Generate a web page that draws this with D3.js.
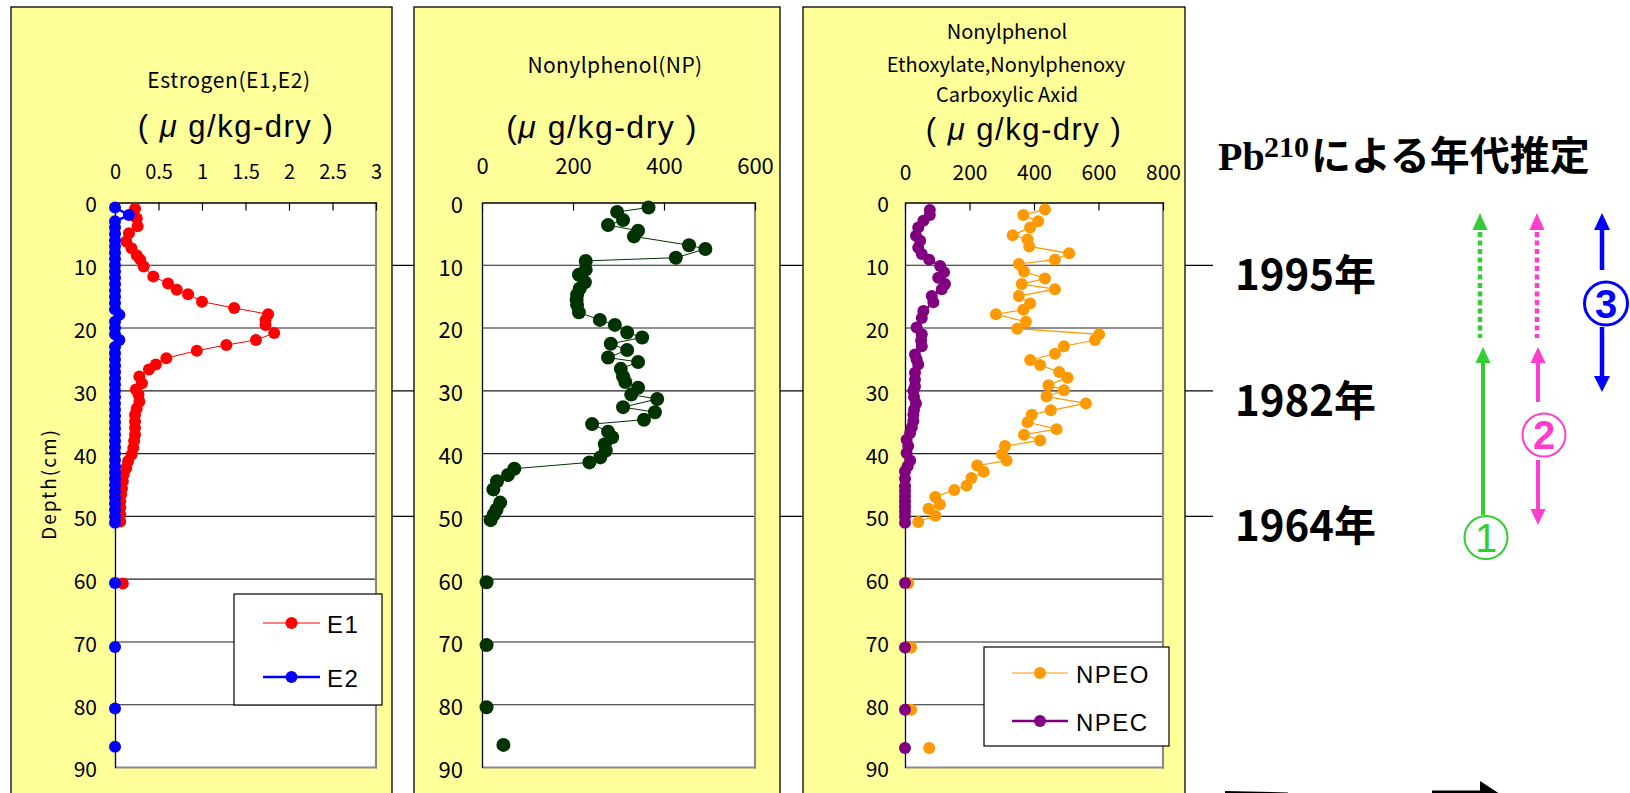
<!DOCTYPE html>
<html><head><meta charset="utf-8">
<script src="https://cdn.jsdelivr.net/npm/d3@7"></script>
<style>body{margin:0;background:#fff;} svg{display:block;}</style>
</head><body>
<svg id="c" width="1630" height="793"></svg>
<script>
// ---------------- data ----------------
const depthTicks = [0,10,20,30,40,50,60,70,80,90];
const estrogenTicks = [0,0.5,1,1.5,2,2.5,3];
const npTicks = [0,200,400,600];
const npeTicks = [0,200,400,600,800];
const yearLabels = ["1995年","1982年","1964年"];
const yearDepths = [10,30,50];

const e1Depth = [1.0,2.5,3.8,4.9,6.2,7.3,8.4,9.1,10.2,11.8,12.9,13.9,14.6,15.8,16.8,17.8,18.7,19.5,20.8,21.9,22.7,23.6,24.8,25.8,26.6,27.7,28.8,29.8,30.6,31.7,32.8,33.8,34.9,35.9,37.0,38.0,39.1,40.2,41.2,42.3,43.3,44.4,45.5,46.5,47.6,48.6,49.7,50.8,60.7];
const e1Value = [0.23,0.25,0.26,0.16,0.13,0.19,0.25,0.29,0.33,0.44,0.61,0.71,0.84,1.00,1.37,1.76,1.73,1.73,1.83,1.62,1.28,0.94,0.59,0.47,0.39,0.28,0.31,0.24,0.27,0.28,0.25,0.23,0.23,0.23,0.23,0.22,0.21,0.19,0.15,0.13,0.10,0.09,0.08,0.07,0.06,0.06,0.06,0.06,0.09];

const e2Depth = [0.8,2.0,3.0,4.0,5.0,6.0,7.0,8.0,9.0,10.0,11.0,12.0,13.0,14.0,15.0,16.0,17.0,17.9,19.0,20.0,21.0,21.9,23.0,24.0,25.0,26.0,27.0,28.0,29.0,30.0,31.0,32.0,33.0,34.0,35.0,36.0,37.0,38.0,39.0,40.0,41.0,42.0,43.0,44.0,45.0,46.0,47.0,48.0,49.0,50.0,51.0,60.6,70.8,80.6,86.7];
const e2Value = [0,0.16,0,0,0,0,0,0,0,0,0,0,0,0,0,0,0,0.05,0,0,0,0.05,0,0,0,0,0,0,0,0,0,0,0,0,0,0,0,0,0,0,0,0,0,0,0,0,0,0,0,0,0,0,0,0,0];

const npDepth = [0.8,1.5,2.8,3.6,4.5,5.4,6.8,7.4,8.8,9.3,10.7,11.5,12.7,13.7,14.7,15.5,16.3,17.5,18.7,19.5,20.7,21.5,22.5,23.5,24.7,25.4,26.5,27.7,28.6,29.5,30.6,31.3,32.6,33.4,34.6,35.3,36.5,37.4,38.5,39.5,40.6,41.4,42.4,43.4,44.4,45.7,47.8,48.9,49.7,50.6,60.5,70.5,80.4,86.4];
const npValue = [366,297,310,277,343,334,455,491,426,228,228,213,226,215,209,208,209,213,259,292,319,352,283,319,277,343,305,310,315,343,328,385,310,380,356,242,277,286,270,272,260,236,71,57,33,25,40,32,26,19,10,10,10,47];

const npeoDepth = [1.1,2.0,3.0,4.0,5.2,5.9,7.0,8.1,9.1,9.8,11.0,12.1,13.0,13.8,14.9,16.1,17.1,17.8,19.0,20.1,21.0,21.9,22.9,24.1,25.1,25.9,27.0,27.9,29.1,29.9,30.9,32.0,33.1,33.8,35.0,36.1,37.0,37.9,38.8,40.1,41.1,41.9,42.9,43.9,45.1,45.8,46.9,48.1,48.8,49.9,50.9,60.6,70.9,80.8,86.9];
const npeoValue = [434,367,413,388,334,380,385,509,465,353,369,434,362,465,353,388,367,282,375,348,602,589,493,465,388,419,478,504,445,493,439,561,452,393,380,470,369,419,310,301,315,224,244,206,191,153,94,108,73,94,41,10,19,19,75];

const npecDepth = [1.2,2.0,2.9,4.0,5.3,6.1,7.2,8.2,9.1,10.1,11.1,12.0,13.0,13.8,14.9,15.9,17.3,18.4,19.9,21.0,22.0,22.9,24.2,25.0,25.8,27.1,28.2,29.3,30.0,31.0,32.0,33.0,33.8,34.8,35.8,36.7,37.8,38.8,39.9,41.1,42.0,42.8,44.0,45.2,46.0,46.8,47.6,48.4,49.2,50.0,51.0,60.6,70.9,80.8,86.9];
const npecValue = [77,77,57,41,34,47,41,52,75,109,121,103,124,114,83,88,57,52,36,52,50,52,31,36,41,31,31,31,26,28,34,28,26,26,21,16,5,10,5,16,8,0,0,0,0,0,0,0,0,0,0,0,0,0,0];

// ---------------- drawing ----------------
const FONT = "'Noto Sans CJK JP', 'Noto Sans', sans-serif";
const LAT = "'Liberation Sans', Arial, sans-serif";
const svg = d3.select("#c");
const y = d3.scaleLinear().domain([0, 90]).range([202.5, 767.5]);

// year reference lines (behind panels)
svg.selectAll("line.year").data(yearDepths).join("line")
  .attr("class", "year")
  .attr("x1", 392).attr("x2", 1213)
  .attr("y1", d => y(d)).attr("y2", d => y(d))
  .attr("stroke", "#000").attr("stroke-width", 1.3);

function zip(ds, vs) { return ds.map((d, i) => ({ d, v: vs[i] })); }
function segments(pts) {
  const segs = []; let cur = [];
  pts.forEach((p, i) => {
    if (i > 0 && p.d - pts[i - 1].d > 5) { segs.push(cur); cur = []; }
    cur.push(p);
  });
  segs.push(cur);
  return segs;
}

const panels = [
  { x0: 11, x1: 392, L: 115, R: 376, dom: [0, 3], ticks: estrogenTicks, tickBase: 179, tickFs: 20, yLabPad: 18, yFs: 21 },
  { x0: 414, x1: 780, L: 482, R: 755, dom: [0, 600], ticks: npTicks, tickBase: 174, tickFs: 22, yLabPad: 19, yFs: 22 },
  { x0: 803, x1: 1185, L: 905, R: 1163, dom: [0, 800], ticks: npeTicks, tickBase: 180, tickFs: 21, yLabPad: 16, yFs: 21 }
];

panels.forEach(p => {
  const g = svg.append("g");
  g.append("rect").attr("x", p.x0).attr("y", 7).attr("width", p.x1 - p.x0).attr("height", 800)
    .attr("fill", "#FFFF99").attr("stroke", "#000").attr("stroke-width", 1.3);
  g.append("rect").attr("x", p.L).attr("y", y(0)).attr("width", p.R - p.L).attr("height", y(90) - y(0))
    .attr("fill", "#fff");
  p.x = d3.scaleLinear().domain(p.dom).range([p.L, p.R]);
  // gridlines
  g.selectAll("line.grid").data(depthTicks.filter(d => d > 0 && d < 90)).join("line")
    .attr("x1", p.L).attr("x2", p.R).attr("y1", d => y(d)).attr("y2", d => y(d))
    .attr("stroke", "#222").attr("stroke-width", 1.1);
  // right & bottom border
  g.append("line").attr("x1", p.R).attr("x2", p.R).attr("y1", y(0)).attr("y2", y(90) + 1).attr("stroke", "#8a8a8a").attr("stroke-width", 2.2);
  g.append("line").attr("x1", p.L).attr("x2", p.R + 1).attr("y1", y(90)).attr("y2", y(90)).attr("stroke", "#8a8a8a").attr("stroke-width", 2.2);
  // top axis
  const ax = g.append("g").attr("transform", `translate(0,${y(0)})`)
    .call(d3.axisTop(p.x).tickValues(p.ticks).tickFormat(d => String(d))
      .tickSizeInner(-8).tickSizeOuter(0).tickPadding(y(0) - p.tickBase));
  ax.select(".domain").attr("stroke", "#000").attr("stroke-width", 1.3);
  ax.selectAll(".tick line").attr("stroke", "#000").attr("stroke-width", 1.2);
  ax.selectAll("text").attr("font-family", FONT).attr("font-size", p.tickFs).attr("fill", "#000");
  // left axis
  const ay = g.append("g").attr("transform", `translate(${p.L},0)`)
    .call(d3.axisLeft(y).tickValues(depthTicks).tickSize(0).tickPadding(p.yLabPad));
  ay.select(".domain").attr("stroke", "#000").attr("stroke-width", 1.3);
  ay.selectAll("text").attr("font-family", FONT).attr("font-size", p.yFs).attr("dy", "0.45em").attr("fill", "#000");
});

function drawSeries(p, pts, color, lw, r) {
  const g = svg.append("g");
  const line = d3.line().x(q => p.x(q.v)).y(q => y(q.d));
  segments(pts).forEach(s => {
    if (s.length > 1) g.append("path").attr("d", line(s)).attr("fill", "none").attr("stroke", color).attr("stroke-width", lw);
  });
  g.selectAll("circle").data(pts).join("circle")
    .attr("cx", q => p.x(q.v)).attr("cy", q => y(q.d)).attr("r", r).attr("fill", color);
}

drawSeries(panels[0], zip(e1Depth, e1Value), "#FF0000", 1, 6);
drawSeries(panels[0], zip(e2Depth, e2Value), "#0000FF", 2.5, 6);
drawSeries(panels[1], zip(npDepth, npValue), "#003300", 1, 7);
drawSeries(panels[2], zip(npeoDepth, npeoValue), "#FF9900", 1.2, 6);
drawSeries(panels[2], zip(npecDepth, npecValue), "#800080", 2.5, 6);

// titles
function txt(x, yy, s, fs, fam, ls) {
  return svg.append("text").attr("x", x).attr("y", yy).text(s)
    .attr("font-family", fam || FONT).attr("font-size", fs).attr("text-anchor", "middle")
    .attr("letter-spacing", ls || 0).attr("fill", "#000");
}
function units(x, yy, pre, fs) {
  const t = svg.append("text").attr("x", x).attr("y", yy)
    .attr("font-family", LAT).attr("font-size", fs).attr("text-anchor", "middle")
    .attr("letter-spacing", 1.5).attr("fill", "#000");
  t.append("tspan").text(pre);
  t.append("tspan").attr("font-style", "italic").text("μ");
  t.append("tspan").text(" g/kg-dry )");
}
txt(229, 88, "Estrogen(E1,E2)", 21, FONT, 0.6);
units(236, 137, "( ", 31);
txt(615, 73, "Nonylphenol(NP)", 21, FONT, 0.4);
units(602, 138, "(", 32);
txt(1007, 39, "Nonylphenol", 20);
txt(1006, 72, "Ethoxylate,Nonylphenoxy", 20);
txt(1007, 102, "Carboxylic Axid", 20);
units(1024, 140, "( ", 31);

// depth label
svg.append("text").attr("transform", "translate(56,484) rotate(-90)")
  .attr("text-anchor", "middle").attr("font-family", FONT).attr("font-size", 19)
  .attr("letter-spacing", 2).text("Depth(cm)");

// legends
function legend(box, items) {
  const g = svg.append("g");
  g.append("rect").attr("x", box[0]).attr("y", box[1]).attr("width", box[2] - box[0]).attr("height", box[3] - box[1])
    .attr("fill", "#fff").attr("stroke", "#000").attr("stroke-width", 1.2);
  items.forEach(it => {
    g.append("line").attr("x1", it.l1).attr("x2", it.l2).attr("y1", it.y).attr("y2", it.y)
      .attr("stroke", it.c).attr("stroke-width", it.lw);
    g.append("circle").attr("cx", (it.l1 + it.l2) / 2).attr("cy", it.y).attr("r", 6).attr("fill", it.c);
    g.append("text").attr("x", it.tx).attr("y", it.y + 10).text(it.s)
      .attr("font-family", LAT).attr("font-size", 24).attr("letter-spacing", 1.5);
  });
}
legend([234, 594, 382, 705], [
  { s: "E1", c: "#FF0000", lw: 1, y: 623, l1: 263, l2: 320, tx: 327 },
  { s: "E2", c: "#0000FF", lw: 2.5, y: 677, l1: 263, l2: 320, tx: 327 }
]);
legend([984, 647, 1169, 746], [
  { s: "NPEO", c: "#FF9900", lw: 1.2, y: 673, l1: 1012, l2: 1068, tx: 1076 },
  { s: "NPEC", c: "#800080", lw: 2.5, y: 721, l1: 1012, l2: 1068, tx: 1076 }
]);

// right side: dating
const SERIF = "'Liberation Serif', 'Times New Roman', serif";
const title = svg.append("text").attr("y", 170).attr("font-weight", "bold");
title.append("tspan").attr("x", 1218).attr("font-family", SERIF).attr("font-size", 40).text("Pb");
title.append("tspan").attr("x", 1264).attr("y", 157).attr("font-family", SERIF).attr("font-size", 30).text("210");
title.append("tspan").attr("x", 1311).attr("y", 170).attr("font-family", FONT).attr("font-size", 40).text("による年代推定");

svg.selectAll("text.year").data(yearDepths).join("text").attr("class", "year")
  .attr("x", 1235).attr("y", d => y(d) + 25)
  .attr("font-family", FONT).attr("font-weight", "bold").attr("font-size", 42)
  .text((d, i) => yearLabels[i]);

// arrows
function head(x, tip, dir, w, h, c) {
  svg.append("path").attr("d", `M${x},${tip} L${x - w / 2},${tip + dir * h} L${x + w / 2},${tip + dir * h} Z`).attr("fill", c);
}
function vline(x, y1, y2, c, w, dash) {
  const l = svg.append("line").attr("x1", x).attr("x2", x).attr("y1", y1).attr("y2", y2).attr("stroke", c).attr("stroke-width", w);
  if (dash) l.attr("stroke-dasharray", dash);
}
const GREEN = "#33CC33", PINK = "#FF3DCC", BLUE = "#0000FF";
// green
head(1480, 213, 1, 15, 17, GREEN); vline(1480, 232, 338, GREEN, 4.5, "5,3.5");
head(1483, 347, 1, 15, 16, GREEN); vline(1483, 362, 515, GREEN, 4);
// pink
head(1537, 213, 1, 15, 17, PINK); vline(1537, 232, 338, PINK, 4.5, "5,3.5");
head(1538, 347, 1, 15, 16, PINK); vline(1538, 362, 402, PINK, 4); vline(1538, 460, 510, PINK, 4); head(1538, 525, -1, 15, 16, PINK);
// blue
head(1602, 213, 1, 16, 17, BLUE); vline(1602, 229, 270, BLUE, 4.5);
vline(1602, 327, 378, BLUE, 4.5); head(1602, 392, -1, 16, 16, BLUE);

function circled(cx, cy, s, c, sw, fw) {
  svg.append("circle").attr("cx", cx).attr("cy", cy).attr("r", 21.5).attr("fill", "none").attr("stroke", c).attr("stroke-width", sw);
  svg.append("text").attr("x", cx).attr("y", cy).attr("dy", "0.36em").attr("text-anchor", "middle")
    .attr("font-family", LAT).attr("font-weight", fw).attr("font-size", 40).attr("fill", c).text(s);
}
circled(1486, 537.5, "1", GREEN, 2, "normal");
circled(1544, 435, "2", PINK, 2, "bold");
circled(1606, 303.5, "3", BLUE, 3, "bold");

// cut-off shapes at bottom edge
svg.append("path").attr("d", "M1225,791 L1288,792.5 L1288,800 L1225,800 Z").attr("fill", "#000");
svg.append("path").attr("d", "M1432,790.5 L1480,790.5 L1480,781 L1503,796 L1480,811 L1480,801 L1432,801 Z").attr("fill", "#000");
</script>
</body></html>
